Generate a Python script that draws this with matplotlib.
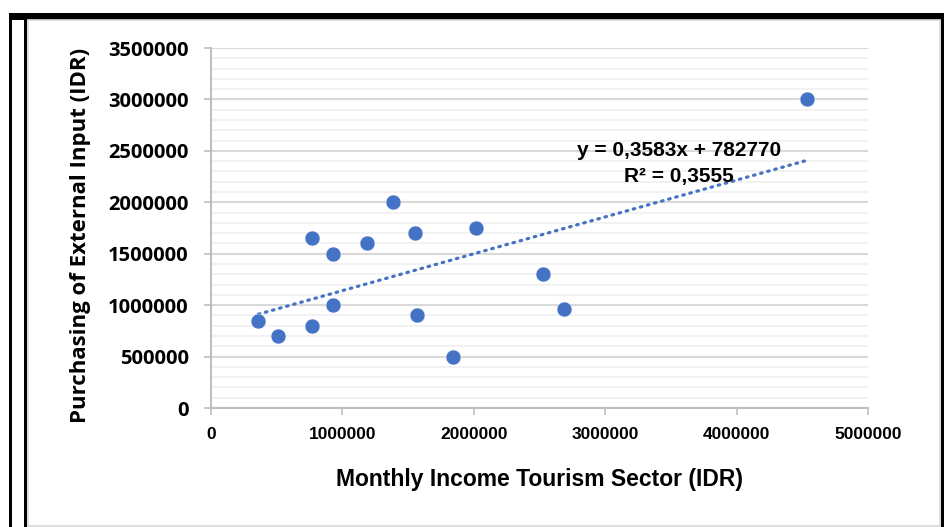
import numpy as np
import matplotlib.pyplot as plt
from matplotlib.patches import Rectangle
from matplotlib.ticker import MultipleLocator

# data
income = [360000, 507000, 766000, 766000, 925000, 925000, 1184000, 1386000,
          1551000, 1569000, 1843000, 2020000, 2527000, 2684000, 4532000]
purchase = [850000, 700000, 800000, 1650000, 1500000, 1000000, 1600000, 2000000,
            1700000, 900000, 500000, 1750000, 1300000, 960000, 3000000]

slope = 0.3583
intercept = 782770
r2_text = 'R² = 0,3555'
eq_text = 'y = 0,3583x + 782770'

x_ticks = [0, 1000000, 2000000, 3000000, 4000000, 5000000]
y_ticks = [0, 500000, 1000000, 1500000, 2000000, 2500000, 3000000, 3500000]

blue = '#4472C4'
narrow = ['Liberation Sans', 'DejaVu Sans']
W, H = 945, 527

fig = plt.figure(figsize=(W / 100, H / 100), dpi=100)

# outer frame (black borders + light grey chart border)
def px_rect(x0, y0, x1, y1, color, z=0):
    r = Rectangle((x0 / W, 1 - y1 / H), (x1 - x0) / W, (y1 - y0) / H,
                  transform=fig.transFigure, facecolor=color, edgecolor='none', zorder=z)
    fig.add_artist(r)

px_rect(28, 19.5, 940, 525.5, 'white')
fig.add_artist(Rectangle((28 / W, 1 - 525.5 / H), 912 / W, 506 / H, transform=fig.transFigure,
                         facecolor='none', edgecolor='#d9d9d9', lw=1.2))
px_rect(9, 13, 11.5, 527, 'black')
px_rect(9, 13, 945, 19.5, 'black')
px_rect(24, 13, 27.5, 527, 'black')
px_rect(941.5, 13, 945, 527, 'black')

ax = fig.add_axes([211 / W, 1 - 408 / H, (868 - 211) / W, (408 - 48) / H])
ax.set_facecolor('none')

ax.set_xlim(0, 5000000)
ax.set_ylim(0, 3500000)
ax.set_xticks(x_ticks)
ax.set_yticks(y_ticks)
ax.set_xticklabels([str(v) for v in x_ticks])
ax.set_yticklabels([str(v) for v in y_ticks])
ax.yaxis.set_minor_locator(MultipleLocator(100000))

ax.grid(axis='y', which='major', color='#d9d9d9', lw=1.5, zorder=0)
ax.grid(axis='y', which='minor', color='#f0f0f0', lw=1.2, zorder=0)
ax.set_axisbelow(True)

for s in ['top', 'right']:
    ax.spines[s].set_visible(False)
for s in ['left', 'bottom']:
    ax.spines[s].set_color('#bfbfbf')
    ax.spines[s].set_linewidth(1.5)

ax.tick_params(axis='both', which='major', direction='out', length=5, width=1.2, color='#bfbfbf')
ax.tick_params(axis='y', which='minor', length=0)
ax.tick_params(axis='y', pad=11)
ax.tick_params(axis='x', pad=9)

for lab in ax.get_yticklabels():
    lab.set_fontfamily('Open Sans')
    lab.set_fontweight('bold')
    lab.set_fontsize(14.5)
for lab in ax.get_xticklabels():
    lab.set_fontfamily(narrow)
    lab.set_fontweight('bold')
    lab.set_fontsize(12.5)

ax.scatter(income, purchase, s=115, color=blue, edgecolor='white', linewidth=0.3, zorder=3)

# linear trendline over the range of the data
xs = np.array([min(income), max(income)])
ax.plot(xs, slope * xs + intercept, color=blue, lw=2.3, linestyle=(0, (0.5, 1.8)),
        dash_capstyle='round', zorder=2)

ax.text(3560000, 2508000, eq_text, ha='center', va='center', fontsize=15,
        fontweight='bold', family=narrow, zorder=4)
ax.text(3560000, 2255000, r2_text, ha='center', va='center', fontsize=15,
        fontweight='bold', family=narrow, zorder=4)

ax.set_xlabel('Monthly Income Tourism Sector (IDR)', fontsize=16.5, fontweight='bold',
              family=narrow)
ax.xaxis.set_label_coords(0.5, -0.168)
ax.set_ylabel('Purchasing of External Input (IDR)', fontsize=16, fontweight='bold',
              family=['Open Sans', 'DejaVu Sans'])
ax.yaxis.set_label_coords(-0.182, 0.478)

fig.savefig('out.png', dpi=100)
